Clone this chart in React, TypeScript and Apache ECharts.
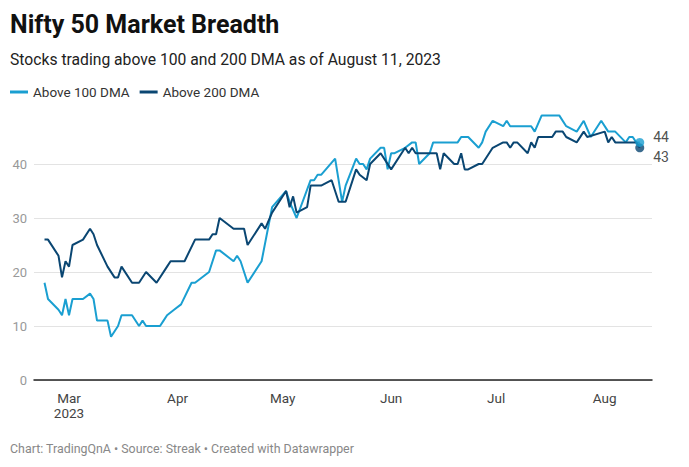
import React, { useEffect, useRef } from "react";
import * as echarts from "echarts";

const titleText = "Nifty 50 Market Breadth";
const subtitleText = "Stocks trading above 100 and 200 DMA as of August 11, 2023";
const footerText = "Chart: TradingQnA • Source: Streak • Created with Datawrapper";

const seriesNames = ["Above 100 DMA", "Above 200 DMA"];

const tickDates = ["2023-03-01", "2023-04-01", "2023-05-01", "2023-06-01", "2023-07-01", "2023-08-01"];
const tickLabels = ["Mar\n2023", "Apr", "May", "Jun", "Jul", "Aug"];

const dates100 = [
  "2023-02-22", "2023-02-23", "2023-02-26", "2023-02-27", "2023-02-28", "2023-03-01", "2023-03-02",
  "2023-03-05", "2023-03-07", "2023-03-08", "2023-03-09", "2023-03-12", "2023-03-13", "2023-03-15",
  "2023-03-16", "2023-03-19", "2023-03-21", "2023-03-22", "2023-03-23", "2023-03-27", "2023-03-28",
  "2023-03-29", "2023-03-31", "2023-04-02", "2023-04-05", "2023-04-06", "2023-04-10", "2023-04-12",
  "2023-04-13", "2023-04-17", "2023-04-18", "2023-04-19", "2023-04-21", "2023-04-25", "2023-04-28",
  "2023-05-02", "2023-05-03", "2023-05-05", "2023-05-09", "2023-05-10", "2023-05-11", "2023-05-12",
  "2023-05-16", "2023-05-18", "2023-05-19", "2023-05-22", "2023-05-23", "2023-05-24", "2023-05-25",
  "2023-05-26", "2023-05-29", "2023-05-30", "2023-05-31", "2023-06-01", "2023-06-02", "2023-06-05",
  "2023-06-07", "2023-06-08", "2023-06-09", "2023-06-12", "2023-06-13", "2023-06-20", "2023-06-21",
  "2023-06-23", "2023-06-26", "2023-06-27", "2023-06-28", "2023-06-30", "2023-07-03", "2023-07-04",
  "2023-07-05", "2023-07-11", "2023-07-12", "2023-07-14", "2023-07-19", "2023-07-21", "2023-07-24",
  "2023-07-26", "2023-07-28", "2023-07-31", "2023-08-02", "2023-08-04", "2023-08-07", "2023-08-08",
  "2023-08-09", "2023-08-10", "2023-08-11",
];
const values100 = [
  18, 15, 13, 12, 15, 12, 15,
  15, 16, 15, 11, 11, 8, 10,
  12, 12, 10, 11, 10, 10, 11,
  12, 13, 14, 18, 18, 20, 24,
  24, 22, 23, 22, 18, 22, 32,
  35, 33, 30, 37, 37, 38, 38,
  41, 33, 36, 41, 40, 40, 39,
  41, 43, 43, 39, 42, 42, 43,
  44, 44, 40, 42, 44, 44, 45,
  45, 43, 44, 46, 48, 47, 48,
  47, 47, 46, 49, 49, 47, 46,
  48, 45, 48, 46, 46, 44, 45,
  45, 44, 44,
];

const dates200 = [
  "2023-02-22", "2023-02-23", "2023-02-26", "2023-02-27", "2023-02-28", "2023-03-01", "2023-03-02",
  "2023-03-05", "2023-03-07", "2023-03-08", "2023-03-09", "2023-03-12", "2023-03-14", "2023-03-15",
  "2023-03-16", "2023-03-19", "2023-03-21", "2023-03-23", "2023-03-26", "2023-03-29", "2023-03-30",
  "2023-04-03", "2023-04-06", "2023-04-10", "2023-04-11", "2023-04-12", "2023-04-13", "2023-04-17",
  "2023-04-20", "2023-04-21", "2023-04-25", "2023-04-26", "2023-04-28", "2023-05-02", "2023-05-03",
  "2023-05-04", "2023-05-05", "2023-05-08", "2023-05-09", "2023-05-12", "2023-05-15", "2023-05-17",
  "2023-05-19", "2023-05-22", "2023-05-23", "2023-05-25", "2023-05-26", "2023-05-29", "2023-06-01",
  "2023-06-05", "2023-06-06", "2023-06-07", "2023-06-08", "2023-06-14", "2023-06-15", "2023-06-16",
  "2023-06-19", "2023-06-20", "2023-06-21", "2023-06-22", "2023-06-23", "2023-06-26", "2023-06-27",
  "2023-06-30", "2023-07-03", "2023-07-04", "2023-07-05", "2023-07-06", "2023-07-07", "2023-07-10",
  "2023-07-11", "2023-07-12", "2023-07-13", "2023-07-17", "2023-07-18", "2023-07-20", "2023-07-21",
  "2023-07-24", "2023-07-26", "2023-07-27", "2023-08-01", "2023-08-02", "2023-08-03", "2023-08-04",
  "2023-08-10", "2023-08-11",
];
const values200 = [
  26, 26, 23, 19, 22, 21, 25,
  26, 28, 27, 25, 21, 19, 19,
  21, 18, 18, 20, 18, 21, 22,
  22, 26, 26, 27, 27, 30, 28,
  28, 25, 29, 28, 31, 35, 32,
  34, 31, 32, 36, 36, 37, 33,
  33, 39, 38, 37, 40, 42, 39,
  43, 42, 43, 42, 42, 39, 42,
  40, 40, 42, 39, 39, 40, 40,
  43, 44, 44, 43, 44, 44, 42,
  44, 43, 45, 45, 46, 46, 45,
  44, 46, 45, 46, 44, 45, 44,
  44, 43,
];

const colors = ["#1a9fd1", "#0a4672"];
const FONT = "Roboto, 'Noto Sans', sans-serif";

const toTime = (s: string) => {
  const [y, m, d] = s.split("-").map(Number);
  return new Date(y, m - 1, d).getTime();
};

export default function App() {
  const ref = useRef<HTMLDivElement>(null);

  useEffect(() => {
    if (!ref.current) return;
    const chart = echarts.init(ref.current, null, { renderer: "svg" });
    const tickTimes = tickDates.map(toTime);
    const data100 = dates100.map((d, i) => [toTime(d), values100[i]]);
    const data200 = dates200.map((d, i) => [toTime(d), values200[i]]);
    const last100 = data100[data100.length - 1];
    const last200 = data200[data200.length - 1];

    const option: any = {
      animation: false,
      backgroundColor: "#ffffff",
      textStyle: { fontFamily: FONT },
      title: [
        {
          text: titleText,
          left: 10,
          top: 12,
          padding: 0,
          textStyle: { fontFamily: FONT, fontSize: 25, fontWeight: "bold", color: "#111" },
        },
        {
          text: subtitleText,
          left: 10,
          top: 51,
          padding: 0,
          textStyle: { fontFamily: FONT, fontSize: 15.7, fontWeight: "normal", color: "#222" },
        },
        {
          text: footerText,
          left: 10,
          top: 442,
          padding: 0,
          textStyle: { fontFamily: FONT, fontSize: 12.4, fontWeight: "normal", color: "#888" },
        },
      ],
      legend: {
        left: 10,
        top: 85,
        padding: 0,
        itemGap: 10,
        itemWidth: 18,
        itemHeight: 3,
        icon: "rect",
        data: seriesNames,
        textStyle: { fontFamily: FONT, fontSize: 13.5, color: "#333" },
      },
      grid: {
        left: 34,
        right: 37,
        top: 110,
        bottom: 87,
        outerBoundsMode: "none",
      },
      xAxis: {
        type: "value",
        min: toTime("2023-02-19"),
        max: toTime("2023-08-14") + 12 * 3600 * 1000,
        axisLine: { show: true, onZero: false, lineStyle: { color: "#222", width: 1.5 } },
        axisTick: { show: false },
        splitLine: { show: false },
        axisLabel: {
          customValues: tickTimes,
          formatter: (v: number) => {
            const i = tickTimes.indexOf(v);
            return i >= 0 ? tickLabels[i] : "";
          },
          color: "#444",
          fontSize: 13.5,
          lineHeight: 15,
          margin: 10,
          fontFamily: FONT,
        },
      },
      yAxis: {
        type: "value",
        min: 0,
        max: 50,
        interval: 10,
        axisLine: { show: false },
        axisTick: { show: false },
        axisLabel: {
          color: "#999",
          fontSize: 13,
          margin: 7,
          showMaxLabel: false,
          fontFamily: FONT,
        },
        splitLine: { show: true, showMaxLine: false, lineStyle: { color: "#e3e3e3", width: 1 } },
      },
      series: [
        {
          name: seriesNames[0],
          type: "line",
          data: data100,
          showSymbol: false,
          symbol: "none",
          lineStyle: { color: colors[0], width: 2 },
          itemStyle: { color: colors[0] },
          z: 2,
        },
        {
          name: seriesNames[1],
          type: "line",
          data: data200,
          showSymbol: false,
          symbol: "none",
          lineStyle: { color: colors[1], width: 2 },
          itemStyle: { color: colors[1] },
          z: 3,
        },
        {
          name: "end200",
          type: "scatter",
          data: [last200],
          symbolSize: 9,
          itemStyle: { color: colors[1] },
          z: 4,
          label: {
            show: true,
            position: "right",
            distance: 9,
            offset: [0, 9],
            formatter: (p: any) => String(p.value[1]),
            color: "#222",
            fontSize: 14,
            fontFamily: FONT,
          },
        },
        {
          name: "end100",
          type: "scatter",
          data: [last100],
          symbolSize: 9,
          itemStyle: { color: colors[0] },
          z: 5,
          label: {
            show: true,
            position: "right",
            distance: 9,
            offset: [0, -5],
            formatter: (p: any) => String(p.value[1]),
            color: "#222",
            fontSize: 14,
            fontFamily: FONT,
          },
        },
      ],
    };
    chart.setOption(option);
    return () => chart.dispose();
  }, []);

  return <div ref={ref} style={{ width: 689, height: 467, position: "absolute", left: 0, top: 0 }} />;
}
